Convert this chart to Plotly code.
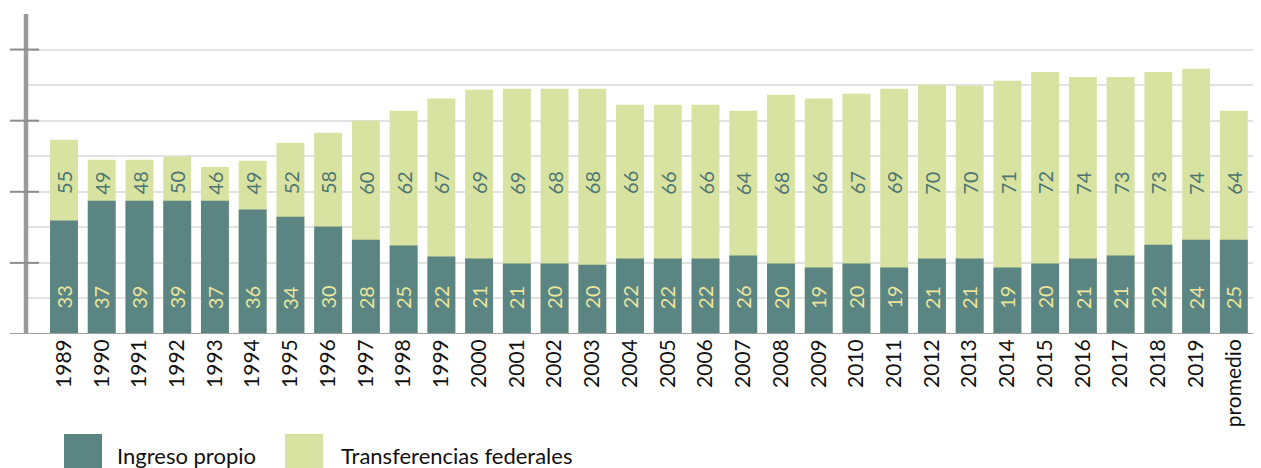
import plotly.graph_objects as go

# ---------------- data ----------------
categories = [str(y) for y in range(1989, 2020)] + ["promedio"]

# bar heights (axis units: 10 per gridline)
transferencias_height = [54.6, 49.0, 49.0, 49.9, 47.0, 48.7, 53.8, 56.6, 60.0, 62.8,
                         66.2, 68.7, 69.0, 69.0, 69.0, 64.5, 64.5, 64.5, 62.8, 67.3,
                         66.2, 67.6, 69.0, 70.1, 69.8, 71.2, 73.7, 72.3, 72.3, 73.7,
                         74.6, 62.8]
ingreso_height = [31.9, 37.5, 37.5, 37.5, 37.5, 35.0, 33.0, 30.2, 26.5, 24.9,
                  21.8, 21.2, 19.8, 19.8, 19.5, 21.2, 21.2, 21.2, 22.1, 19.8,
                  18.7, 19.8, 18.7, 21.2, 21.2, 18.7, 19.8, 21.2, 22.1, 25.1,
                  26.5, 26.5]

# printed labels
ingreso_labels = [33, 37, 39, 39, 37, 36, 34, 30, 28, 25, 22, 21, 21, 20, 20, 22,
                  22, 22, 26, 20, 19, 20, 19, 21, 21, 19, 20, 21, 21, 22, 24, 25]
transferencias_labels = [55, 49, 48, 50, 46, 49, 52, 58, 60, 62, 67, 69, 69, 68, 68, 66,
                         66, 66, 64, 68, 66, 67, 69, 70, 70, 71, 72, 74, 73, 73, 74, 64]

series_names = ["Ingreso propio", "Transferencias federales"]
y_ticks = [0, 20, 40, 60, 80]

# ---------------- style ----------------
DARK = "#5a8583"
LIGHT = "#d8e3a1"
DARK_TXT = "#4e7572"
LIGHT_TXT = "#ece69c"
FONT = "Lato"

OFF = 8  # page body margin in the browser
W, H = 1261 - OFF, 468 - OFF
ML, MR, MT, MB = 26 - OFF, 0, 14 - OFF, 134
PW = W - ML - MR
PH = H - MT - MB
BASE = MT + PH  # y pixel (figure coords) of baseline


def px_x(px):
    """reference page pixel -> paper x"""
    return (px - OFF - ML) / PW


def px_y(py):
    """reference page pixel -> paper y"""
    return (BASE - (py - OFF)) / PH


fig = go.Figure()
idx = list(range(len(categories)))
fig.add_trace(go.Bar(x=idx, y=transferencias_height, name=series_names[1],
                     marker=dict(color=LIGHT, line=dict(width=0)), width=0.74,
                     showlegend=False, hoverinfo="skip"))
fig.add_trace(go.Bar(x=idx, y=ingreso_height, name=series_names[0],
                     marker=dict(color=DARK, line=dict(width=0)), width=0.74,
                     showlegend=False, hoverinfo="skip"))

annotations = []
for i, a, b in zip(idx, ingreso_labels, transferencias_labels):
    annotations.append(dict(x=i, y=10.3, xref="x", yref="y", text=str(a), showarrow=False,
                            textangle=-90, font=dict(family=FONT, size=20, color=LIGHT_TXT)))
    annotations.append(dict(x=i, y=42.5, xref="x", yref="y", text=str(b), showarrow=False,
                            textangle=-90, font=dict(family=FONT, size=20, color=DARK_TXT)))

# manual legend
legend_items = [(series_names[0], DARK, 64, 115), (series_names[1], LIGHT, 285, 339)]
shapes = []
for name, col, sx, tx in legend_items:
    shapes.append(dict(type="rect", xref="paper", yref="paper",
                       x0=px_x(sx), x1=px_x(sx + 38), y0=px_y(434), y1=px_y(472),
                       fillcolor=col, line=dict(width=0), layer="above"))
    annotations.append(dict(x=px_x(tx), y=px_y(455), xref="paper", yref="paper", text=name,
                            showarrow=False, xanchor="left", yanchor="middle",
                            font=dict(family=FONT, size=22, color="#111111")))

# axis lines and ticks
shapes.append(dict(type="line", xref="paper", yref="y", x0=px_x(10), x1=1, y0=0, y1=0,
                   line=dict(color="#a0a0a0", width=2), layer="above"))
shapes.append(dict(type="line", xref="paper", yref="y", x0=0, x1=0, y0=0, y1=90,
                   line=dict(color="#9a9a9a", width=4.5), layer="above"))
for t in y_ticks[1:]:
    shapes.append(dict(type="line", xref="paper", yref="y", x0=px_x(10), x1=px_x(39), y0=t, y1=t,
                       line=dict(color="#8c8c8c", width=2), layer="above"))

fig.update_layout(
    width=W, height=H,
    margin=dict(l=ML, r=MR, t=MT, b=MB),
    paper_bgcolor="white", plot_bgcolor="white",
    barmode="overlay",
    font=dict(family=FONT, color="#111111"),
    xaxis=dict(range=[-1.007, 31.72], tickangle=-90,
               tickmode="array", tickvals=idx, ticktext=categories,
               tickfont=dict(family=FONT, size=21, color="#111111"),
               showgrid=False, showline=False, ticks="", zeroline=False),
    yaxis=dict(range=[0, 90], dtick=10, showgrid=True, gridcolor="#e2e2e2", gridwidth=2,
               showticklabels=False, ticks="", zeroline=False, showline=False),
    shapes=shapes,
    annotations=annotations,
)

fig.write_html("out.html")
